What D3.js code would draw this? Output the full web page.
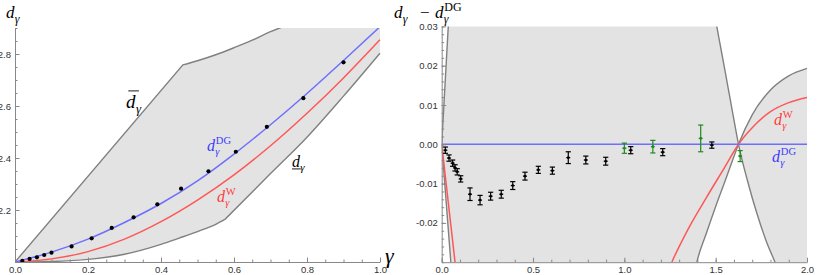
<!DOCTYPE html>
<html>
<head>
<meta charset="utf-8">
<script src="https://cdn.jsdelivr.net/npm/d3@7"></script>
<style>
body { margin: 0; background: #fff; }
svg { display: block; }
.tick text { font-family: "Liberation Sans", Arial, sans-serif; font-size: 9.5px; fill: #333; }
.tick line, .domain { stroke: #888; }
.m text { font-family: "Liberation Serif", "DejaVu Serif", serif; }
</style>
</head>
<body>
<script>

// ---- left panel: d_gamma and its bounds ----
var gammaCurve = [0, 0.1, 0.2, 0.3, 0.4, 0.5, 0.6, 0.7, 0.8, 0.9, 1.0];
var dDG = [2.0, 2.038, 2.088, 2.152, 2.225, 2.312, 2.415, 2.528, 2.648, 2.775, 2.905];
var dW  = [2.0, 2.012, 2.04, 2.088, 2.155, 2.238, 2.335, 2.447, 2.572, 2.708, 2.855];

var gammaUpper = [0, 0.46, 0.5, 0.55, 0.6, 0.65, 0.7, 0.75, 0.8, 1.0];
var dUpper     = [2.0, 2.758, 2.774, 2.797, 2.824, 2.853, 2.886, 2.914, 2.95, 3.1];
var kinkUpper = 0.46;

var gammaLower = [0, 0.1, 0.2, 0.3, 0.4, 0.45, 0.5, 0.55, 0.576, 0.7, 0.8, 0.9, 1.0];
var dLower     = [2.0, 2.002, 2.01, 2.03, 2.068, 2.092, 2.117, 2.145, 2.165, 2.34, 2.48, 2.638, 2.803];
var kinkLower = 0.576;

var gammaPts = [0.02, 0.04, 0.06, 0.08, 0.10, 0.155, 0.21, 0.265, 0.325, 0.39, 0.455, 0.53, 0.605, 0.69, 0.79, 0.9];
var dPts     = [2.004, 2.012, 2.018, 2.027, 2.036, 2.060, 2.091, 2.131, 2.172, 2.222, 2.282, 2.349, 2.424, 2.520, 2.630, 2.768];

// ---- right panel: differences to d^DG ----
var gammaGapUp = [0, 0.036, 0.05, 1.45, 1.506, 1.55, 1.6, 1.625, 1.675, 1.725, 1.775, 1.825, 1.9, 2.0];
var gapUp      = [0, 0.03, 0.042, 0.044, 0.03, 0.019, 0.0062, 0, -0.0094, -0.0175, -0.0244, -0.03, -0.038, -0.046];
var gammaGapLo = [0, 0.05, 0.065, 1.35, 1.397, 1.45, 1.5, 1.55, 1.6, 1.625, 1.7, 1.8, 1.9, 2.0];
var gapLo      = [0, -0.03, -0.039, -0.042, -0.03, -0.0225, -0.0158, -0.0095, -0.0031, 0, 0.0075, 0.0138, 0.0174, 0.0193];
var gammaGapW  = [0, 0.073, 0.09, 1.2, 1.26, 1.35, 1.45, 1.55, 1.625, 1.7, 1.8, 1.9, 2.0];
var gapW       = [0, -0.03, -0.037, -0.037, -0.03, -0.0215, -0.0135, -0.0058, 0, 0.0042, 0.0083, 0.0106, 0.0119];

var gammaBlack = [0.02, 0.04, 0.06, 0.073, 0.085, 0.104, 0.155, 0.21, 0.268, 0.326, 0.389, 0.456, 0.529, 0.606, 0.693, 0.789, 0.898, 1.035, 1.21, 1.479];
var diffBlack  = [-0.0015, -0.0035, -0.0048, -0.006, -0.007, -0.0088, -0.0127, -0.0142, -0.0132, -0.0127, -0.0105, -0.0081, -0.0065, -0.0067, -0.0034, -0.004, -0.0043, -0.0015, -0.002, -0.0002];
var errBlack   = [0.0008, 0.0008, 0.0008, 0.0008, 0.0008, 0.0008, 0.0016, 0.0012, 0.001, 0.001, 0.001, 0.001, 0.0009, 0.0009, 0.0015, 0.001, 0.001, 0.0009, 0.0009, 0.0008];

var gammaGreen = [1.0, 1.156, 1.418, 1.634];
var diffGreen  = [-0.001, -0.0006, 0.0015, -0.003];
var errGreen   = [0.0013, 0.0016, 0.0034, 0.0014];

var xTicksL = [0, 0.2, 0.4, 0.6, 0.8, 1.0];
var yTicksL = [2.2, 2.4, 2.6, 2.8];
var xTicksR = [0, 0.5, 1.0, 1.5, 2.0];
var yTicksR = [-0.02, -0.01, 0, 0.01, 0.02, 0.03];

var svg = d3.select("body").append("svg")
    .attr("width", 830)
    .attr("height", 275);

var GRAY = "#808080", FILL = "#e3e3e3", BLUE = "#6f6fff", RED = "#ff5757", GREEN = "#1f8a1f";

var xL = d3.scaleLinear().domain([0, 1]).range([15, 380]);
var yL = d3.scaleLinear().domain([2, 2.9]).range([262, 28]);
var xR = d3.scaleLinear().domain([0, 2]).range([441.7, 807]);
var yR = d3.scaleLinear().domain([-0.03, 0.03]).range([262.2, 26.4]);

var defs = svg.append("defs");
defs.append("clipPath").attr("id", "clipL").append("rect")
    .attr("x", xL(0)).attr("y", yL(2.9)).attr("width", xL(1) - xL(0) + 1).attr("height", yL(2) - yL(2.9));
defs.append("clipPath").attr("id", "clipR").append("rect")
    .attr("x", xR(0)).attr("y", yR(0.03)).attr("width", xR(2) - xR(0) + 1).attr("height", yR(-0.03) - yR(0.03));

function zip(a, b) { return a.map(function(d, i) { return [d, b[i]]; }); }

// split a curve at a kink so each piece is smoothed on its own
function pieces(gs, vs, kink) {
  var pts = zip(gs, vs);
  if (kink == null) return [pts];
  var k = gs.indexOf(kink);
  return [pts.slice(0, k + 1), pts.slice(k)];
}

function pathOf(segs, x, y, reverse) {
  var line = d3.line().x(function(d) { return x(d[0]); }).y(function(d) { return y(d[1]); });
  var s = segs.slice();
  if (reverse) s = s.reverse().map(function(p) { return p.slice().reverse(); });
  var out = "";
  s.forEach(function(p) {
    line.curve(p.length > 2 ? d3.curveMonotoneX : d3.curveLinear);
    var str = line(p);
    out += out ? str.replace(/^M/, "L") : str;
  });
  return out;
}

// ---------- left panel ----------
var gl = svg.append("g").attr("clip-path", "url(#clipL)");
var up = pieces(gammaUpper, dUpper, kinkUpper);
var lo = pieces(gammaLower, dLower, kinkLower);

gl.append("path")
    .attr("d", pathOf(up, xL, yL) + pathOf(lo, xL, yL, true).replace(/^M/, "L") + "Z")
    .attr("fill", FILL);

[up, lo].forEach(function(segs) {
  gl.append("path").attr("d", pathOf(segs, xL, yL))
    .attr("fill", "none").attr("stroke", GRAY).attr("stroke-width", 1.4);
});

gl.append("path").attr("d", pathOf([zip(gammaCurve, dW)], xL, yL))
    .attr("fill", "none").attr("stroke", RED).attr("stroke-width", 1.5);
gl.append("path").attr("d", pathOf([zip(gammaCurve, dDG)], xL, yL))
    .attr("fill", "none").attr("stroke", BLUE).attr("stroke-width", 1.5);

svg.append("g").selectAll("circle")
    .data(zip(gammaPts, dPts))
  .enter().append("circle")
    .attr("cx", function(d) { return xL(d[0]); })
    .attr("cy", function(d) { return yL(d[1]); })
    .attr("r", 2.1)
    .attr("fill", "#000");

// ---------- right panel ----------
var gr = svg.append("g").attr("clip-path", "url(#clipR)");
var gu = [zip(gammaGapUp, gapUp)], gd = [zip(gammaGapLo, gapLo)];

gr.append("path")
    .attr("d", pathOf(gu, xR, yR) + pathOf(gd, xR, yR, true).replace(/^M/, "L") + "Z")
    .attr("fill", FILL);
[gu, gd].forEach(function(segs) {
  gr.append("path").attr("d", pathOf(segs, xR, yR))
    .attr("fill", "none").attr("stroke", GRAY).attr("stroke-width", 1.4);
});
gr.append("path").attr("d", pathOf([zip(gammaGapW, gapW)], xR, yR))
    .attr("fill", "none").attr("stroke", RED).attr("stroke-width", 1.5);
gr.append("line")
    .attr("x1", xR(0)).attr("x2", xR(2)).attr("y1", yR(0)).attr("y2", yR(0))
    .attr("stroke", BLUE).attr("stroke-width", 1.5);

function errorBars(gs, vs, es, color) {
  var g = svg.append("g").attr("stroke", color).attr("stroke-width", 1.2);
  var bars = g.selectAll("g").data(gs.map(function(d, i) { return [d, vs[i], es[i]]; }))
    .enter().append("g");
  bars.append("line")
    .attr("x1", function(d) { return xR(d[0]); }).attr("x2", function(d) { return xR(d[0]); })
    .attr("y1", function(d) { return yR(d[1] + d[2]); }).attr("y2", function(d) { return yR(d[1] - d[2]); });
  [1, -1].forEach(function(s) {
    bars.append("line")
      .attr("x1", function(d) { return xR(d[0]) - 2.6; }).attr("x2", function(d) { return xR(d[0]) + 2.6; })
      .attr("y1", function(d) { return yR(d[1] + s * d[2]); }).attr("y2", function(d) { return yR(d[1] + s * d[2]); });
  });
  bars.append("line")
    .attr("x1", function(d) { return xR(d[0]) - 2; }).attr("x2", function(d) { return xR(d[0]) + 2; })
    .attr("y1", function(d) { return yR(d[1]); }).attr("y2", function(d) { return yR(d[1]); });
  bars.append("circle")
    .attr("cx", function(d) { return xR(d[0]); }).attr("cy", function(d) { return yR(d[1]); })
    .attr("r", 1.3).attr("fill", color).attr("stroke", "none");
}
errorBars(gammaGreen, diffGreen, errGreen, GREEN);
errorBars(gammaBlack, diffBlack, errBlack, "#000");

// ---------- axes ----------
function axes(x, y, xMajor, xMinor, yMajor, yMinor, xFmt, yFmt, x0, y0) {
  svg.append("g").attr("transform", "translate(0," + y0 + ")")
    .call(d3.axisBottom(x).tickValues(xMinor).tickSizeInner(-2.5).tickSizeOuter(0).tickFormat(""))
    .call(function(g) { g.select(".domain").remove(); });
  svg.append("g").attr("transform", "translate(0," + y0 + ")")
    .call(d3.axisBottom(x).tickValues(xMajor).tickSizeInner(-4.5).tickSizeOuter(0).tickPadding(4).tickFormat(xFmt));
  svg.append("g").attr("transform", "translate(" + x0 + ",0)")
    .call(d3.axisLeft(y).tickValues(yMinor).tickSizeInner(-2.5).tickSizeOuter(0).tickFormat(""))
    .call(function(g) { g.select(".domain").remove(); });
  svg.append("g").attr("transform", "translate(" + x0 + ",0)")
    .call(d3.axisLeft(y).tickValues(yMajor).tickSizeInner(-4.5).tickSizeOuter(0).tickPadding(4).tickFormat(yFmt));
  svg.selectAll(".domain").attr("stroke-width", 1);
}

axes(xL, yL, xTicksL, d3.range(0, 21).map(function(i) { return i * 0.05; }),
     yTicksL, d3.range(0, 19).map(function(i) { return 2 + i * 0.05; }),
     function(d) { return d.toFixed(1); }, function(d) { return d.toFixed(1); }, xL(0), yL(2));
axes(xR, yR, xTicksR, d3.range(0, 21).map(function(i) { return i * 0.1; }),
     yTicksR, d3.range(0, 31).map(function(i) { return -0.03 + i * 0.002; }),
     function(d) { return d.toFixed(1); }, function(d) { return d.toFixed(2); }, xR(0), yR(-0.03));

// ---------- math labels ----------
function mlab(x, y, o) {
  var g = svg.append("g").attr("class", "m").attr("fill", o.color || "#000");
  var s = o.size || 16, ss = o.small || 10;
  g.append("text").attr("x", x).attr("y", y).attr("font-size", s).attr("font-style", "italic").text("d");
  var w = 0.52 * s;
  if (o.sup) g.append("text").attr("x", x + w + 0.5).attr("y", y - 0.42 * s).attr("font-size", ss).text(o.sup);
  g.append("text").attr("x", x + w).attr("y", y + 0.28 * s).attr("font-size", ss).attr("font-style", "italic").text("γ");
  if (o.over) g.append("line").attr("x1", x + 0.12 * s).attr("x2", x + 0.68 * s)
      .attr("y1", y - 0.9 * s).attr("y2", y - 0.9 * s).attr("stroke", o.color || "#000").attr("stroke-width", 0.9);
  if (o.under) g.append("line").attr("x1", x).attr("x2", x + 0.55 * s)
      .attr("y1", y + 0.12 * s).attr("y2", y + 0.12 * s).attr("stroke", o.color || "#000").attr("stroke-width", 0.9);
  return g;
}

// axis titles
mlab(6, 18, { size: 17, small: 12 });
svg.append("g").attr("class", "m").append("text").attr("x", 385).attr("y", 263)
    .attr("font-size", 22).attr("font-style", "italic").text("γ");
mlab(394, 18, { size: 17, small: 12 });
svg.append("g").attr("class", "m").append("text").attr("x", 420).attr("y", 18).attr("font-size", 17).text("−");
mlab(435, 18, { size: 17, small: 12, sup: "DG" });

// curve labels, left
mlab(126, 108, { size: 19, small: 13, over: true });
mlab(207, 151, { size: 16, small: 10.5, sup: "DG", color: "#3b3bff" });
mlab(217, 202, { size: 16, small: 10.5, sup: "W", color: "#ff3b3b" });
mlab(292, 167, { size: 16, small: 11, under: true });

// curve labels, right
mlab(774, 125, { size: 16, small: 10.5, sup: "W", color: "#ff3b3b" });
mlab(772, 162, { size: 16, small: 10.5, sup: "DG", color: "#3b3bff" });

</script>
</body>
</html>
